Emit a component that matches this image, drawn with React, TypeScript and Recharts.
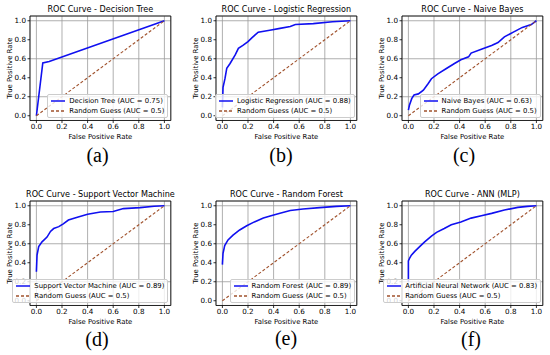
import React from 'react';
import { LineChart, Line, XAxis, YAxis, CartesianGrid, ReferenceArea, Legend, Label } from 'recharts';

const axisTicks = [0, 0.2, 0.4, 0.6, 0.8, 1.0];
const randomFpr = [0, 1];
const randomTpr = [0, 1];

const dtFpr = [0, 0.05, 0.1, 1];
const dtTpr = [0, 0.555, 0.57, 1];

const lrFpr = [0, 0.005, 0.02, 0.034, 0.06, 0.1, 0.125, 0.16, 0.2, 0.23, 0.28, 0.37, 0.45, 0.53, 0.57, 0.71, 0.86, 1];
const lrTpr = [0.088, 0.3, 0.39, 0.5, 0.55, 0.64, 0.71, 0.74, 0.78, 0.82, 0.88, 0.9, 0.92, 0.94, 0.96, 0.97, 0.99, 1];

const nbFpr = [0, 0.008, 0.026, 0.044, 0.078, 0.117, 0.155, 0.18, 0.23, 0.3, 0.36, 0.41, 0.47, 0.49, 0.57, 0.65, 0.7, 0.75, 0.82, 0.89, 0.96, 1];
const nbTpr = [0.06, 0.11, 0.18, 0.22, 0.23, 0.27, 0.34, 0.39, 0.44, 0.5, 0.55, 0.59, 0.62, 0.66, 0.7, 0.74, 0.77, 0.83, 0.88, 0.93, 0.96, 1];

const svmFpr = [0, 0.005, 0.018, 0.044, 0.083, 0.11, 0.135, 0.175, 0.21, 0.25, 0.32, 0.4, 0.5, 0.6, 0.68, 0.81, 0.92, 1];
const svmTpr = [0.305, 0.48, 0.57, 0.62, 0.67, 0.73, 0.76, 0.78, 0.81, 0.85, 0.88, 0.91, 0.935, 0.94, 0.97, 0.98, 0.995, 1];

const rfFpr = [0, 0.005, 0.018, 0.044, 0.083, 0.135, 0.19, 0.25, 0.32, 0.38, 0.45, 0.53, 0.63, 0.76, 0.89, 1];
const rfTpr = [0.38, 0.5, 0.58, 0.64, 0.69, 0.745, 0.79, 0.83, 0.87, 0.895, 0.92, 0.95, 0.965, 0.98, 0.993, 1];

const annFpr = [0, 0, 0.01, 0.023, 0.05, 0.088, 0.127, 0.18, 0.22, 0.28, 0.335, 0.41, 0.49, 0.57, 0.65, 0.75, 0.855, 0.93, 1];
const annTpr = [0.2, 0.42, 0.45, 0.48, 0.52, 0.57, 0.62, 0.68, 0.72, 0.76, 0.8, 0.83, 0.87, 0.895, 0.92, 0.955, 0.983, 0.993, 1];

const modelNames = ['Decision Tree', 'Logistic Regression', 'Naive Bayes', 'Support Vector Machine', 'Random Forest', 'Artificial Neural Network'];
const titles = ['ROC Curve - Decision Tree', 'ROC Curve - Logistic Regression', 'ROC Curve - Naive Bayes', 'ROC Curve - Support Vector Machine', 'ROC Curve - Random Forest', 'ROC Curve - ANN (MLP)'];
const aucValues = ['0.75', '0.88', '0.63', '0.89', '0.89', '0.83'];
const panelLetters = ['(a)', '(b)', '(c)', '(d)', '(e)', '(f)'];
const randomLabel = 'Random Guess (AUC = 0.5)';

const FONT = '"DejaVu Sans", sans-serif';
const PLOT_W = 140.8;
const PLOT_H = 104.5;
const Y_AXIS_W = 30;
const TOP_M = 16;
const X_AXIS_H = 20;
const RIGHT_M = 6;

const toPoints = (fpr: number[], tpr: number[]) => fpr.map((x, i) => ({ x, y: tpr[i] }));

const curves = [
  toPoints(dtFpr, dtTpr),
  toPoints(lrFpr, lrTpr),
  toPoints(nbFpr, nbTpr),
  toPoints(svmFpr, svmTpr),
  toPoints(rfFpr, rfTpr),
  toPoints(annFpr, annTpr),
];
const diagonal = toPoints(randomFpr, randomTpr);

// plot area corners and caption centres, in page pixels
const plotPos = [
  [29.6, 16], [216, 16], [401.9, 16],
  [29.6, 201], [216.3, 201], [402.3, 201],
];
const letterPos = [
  [97.5, 155], [281, 155], [464, 155],
  [97, 339], [286, 338], [471, 339],
];

const renderLegend = (props: any) => {
  const items = [...(props.payload || [])].sort(
    (a: any, b: any) => Number(a.value === randomLabel) - Number(b.value === randomLabel),
  );
  return (
    <div
      style={{
        background: 'rgba(255,255,255,0.8)',
        border: '1px solid #cccccc',
        borderRadius: 2,
        padding: '1px 3px 1px 3px',
        fontFamily: FONT,
      }}
    >
      {items.map((it: any, i: number) => {
        const dashed = it.value === randomLabel;
        return (
          <div key={i} style={{ display: 'flex', alignItems: 'center', height: 9.6, fontSize: 6.9, whiteSpace: 'nowrap', color: '#000' }}>
            <svg width={14} height={4} style={{ marginRight: 4 }}>
              <line x1={0} y1={2} x2={14} y2={2} stroke={it.color} strokeWidth={1.5} strokeDasharray={dashed ? '3 2' : undefined} />
            </svg>
            <span>{it.value}</span>
          </div>
        );
      })}
    </div>
  );
};

function RocPanel({ idx }: { idx: number }) {
  const [px, py] = plotPos[idx];
  const width = Y_AXIS_W + PLOT_W + RIGHT_M;
  const height = TOP_M + PLOT_H + X_AXIS_H;
  return (
    <div style={{ position: 'absolute', left: px - Y_AXIS_W, top: py - TOP_M }}>
      <LineChart width={width} height={height} margin={{ top: TOP_M, right: RIGHT_M, bottom: 0, left: 0 }}>
        <CartesianGrid stroke="#9a9a9a" strokeWidth={0.8} />
        <XAxis
          type="number"
          dataKey="x"
          domain={[-0.05, 1.05]}
          ticks={axisTicks}
          allowDataOverflow
          height={X_AXIS_H}
          axisLine={false}
          tickSize={2.5}
          tickMargin={1.2}
          tickLine={{ stroke: '#000', strokeWidth: 0.8 }}
          tick={{ fontSize: 7.2, fill: '#000', fontFamily: FONT }}
          tickFormatter={(v: number) => v.toFixed(1)}
        >
          <Label value="False Positive Rate" position="insideBottom" offset={1.5} style={{ fontSize: 6.9, fill: '#000', fontFamily: FONT }} />
        </XAxis>
        <YAxis
          type="number"
          dataKey="y"
          domain={[-0.05, 1.05]}
          ticks={axisTicks}
          allowDataOverflow
          width={Y_AXIS_W}
          axisLine={false}
          tickSize={2.5}
          tickMargin={1.5}
          tickLine={{ stroke: '#000', strokeWidth: 0.8 }}
          tick={{ fontSize: 7.2, fill: '#000', fontFamily: FONT }}
          tickFormatter={(v: number) => v.toFixed(1)}
        >
          <Label
            value="True Positive Rate"
            angle={-90}
            position="insideLeft"
            offset={10}
            style={{ fontSize: 6.9, fill: '#000', fontFamily: FONT, textAnchor: 'middle' }}
          />
        </YAxis>
        <Line
          data={curves[idx]}
          dataKey="y"
          name={`${modelNames[idx]} (AUC = ${aucValues[idx]})`}
          stroke="#1010f0"
          strokeWidth={1.6}
          dot={false}
          isAnimationActive={false}
        />
        <Line
          data={diagonal}
          dataKey="y"
          name={randomLabel}
          stroke="#a0522d"
          strokeWidth={1.1}
          strokeDasharray="3 2"
          dot={false}
          isAnimationActive={false}
        />
        <ReferenceArea x1={-0.05} x2={1.05} y1={-0.05} y2={1.05} fill="#ffffff" fillOpacity={0} stroke="#000" strokeWidth={0.8}>
          <Label value={titles[idx]} position="top" offset={4} style={{ fontSize: 8.1, fill: '#000', fontFamily: FONT }} />
        </ReferenceArea>
        <Legend
          layout="vertical"
          align="center"
          verticalAlign="middle"
          content={renderLegend}
          wrapperStyle={{ left: 'auto', top: 'auto', right: RIGHT_M + 2, bottom: X_AXIS_H + 3, width: 'auto', height: 'auto' }}
        />
      </LineChart>
    </div>
  );
}

export default function App() {
  return (
    <div style={{ position: 'absolute', left: 0, top: 0, width: 550, height: 355, background: '#fff', overflow: 'hidden' }}>
      {titles.map((_, i) => (
        <RocPanel key={i} idx={i} />
      ))}
      {panelLetters.map((t, i) => (
        <div
          key={t}
          style={{
            position: 'absolute',
            left: letterPos[i][0],
            top: letterPos[i][1],
            transform: 'translate(-50%, -50%)',
            fontFamily: '"Liberation Serif", serif',
            fontSize: 20,
            lineHeight: 1,
            color: '#000',
          }}
        >
          {t}
        </div>
      ))}
    </div>
  );
}
